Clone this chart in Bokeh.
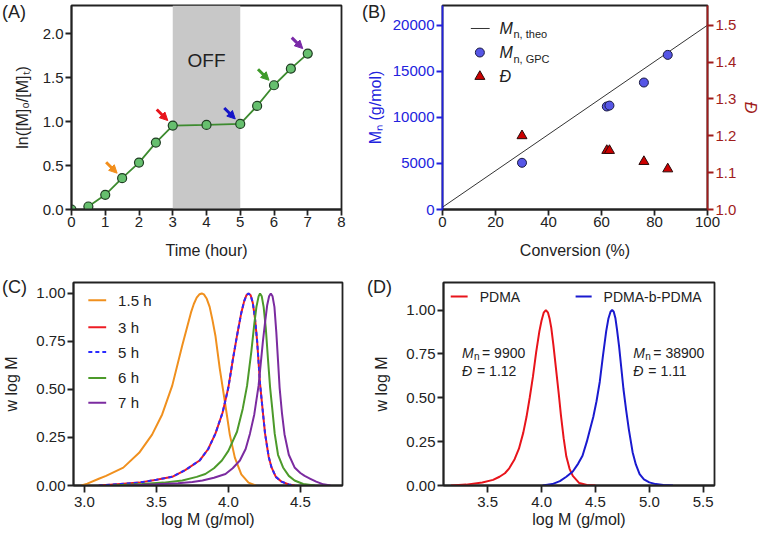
from bokeh.plotting import figure
from bokeh.models import (Range1d, LinearAxis, FixedTicker, NumeralTickFormatter,
                          BoxAnnotation, Label, Arrow, NormalHead, InlineStyleSheet)
from bokeh.layouts import row, column
from bokeh.embed import file_html
from bokeh.resources import INLINE

FONT = "Liberation Sans"
TXT = "#222222"

# ---------------- Panel A data ----------------
time_h = [0, 0.5, 1, 1.5, 2, 2.5, 3, 4, 5, 5.5, 6, 6.5, 7]
ln_ratio = [0.0, 0.034, 0.167, 0.356, 0.534, 0.761, 0.955, 0.962, 0.973, 1.178, 1.413, 1.602, 1.773]
off_period = [3, 5]
arrow_point_index = [3, 6, 8, 10, 12]
arrow_colors = ["#f28e1c", "#e8141c", "#1414c8", "#3e9a2a", "#7a2aa8"]
a_xticks = [0, 1, 2, 3, 4, 5, 6, 7, 8]
a_yticks = [0.0, 0.5, 1.0, 1.5, 2.0]

# ---------------- Panel B data ----------------
conversion = [30, 62, 63, 76, 85]
mn_gpc = [5070, 11180, 11280, 13780, 16780]
dispersity = [1.20, 1.16, 1.16, 1.13, 1.11]
theo_conv = [0, 100]
theo_mn = [250, 20000]
b_xticks = [0, 20, 40, 60, 80, 100]
b_yticks = [0, 5000, 10000, 15000, 20000]
b_rticks = [1.0, 1.1, 1.2, 1.3, 1.4, 1.5]

# ---------------- Panel C data ----------------
c_labels = ["1.5 h", "3 h", "5 h", "6 h", "7 h"]
c_colors = ["#f0901e", "#ee1c24", "#2a2aff", "#4c9a2a", "#7b2ba0"]
logm_15h = [2.98, 3.02, 3.10, 3.15, 3.27, 3.38, 3.47, 3.54, 3.61, 3.68, 3.74, 3.76, 3.78, 3.80,
            3.815, 3.83, 3.85, 3.87, 3.89, 3.91, 3.94, 3.975, 4.01, 4.045, 4.09, 4.14, 4.19]
w_15h = [0.0, 0.01, 0.035, 0.05, 0.093, 0.17, 0.265, 0.37, 0.52, 0.73, 0.90, 0.945, 0.978, 0.996,
         1.0, 0.995, 0.972, 0.93, 0.86, 0.78, 0.61, 0.44, 0.265, 0.145, 0.058, 0.015, 0.0]
logm_3h = [3.10, 3.25, 3.38, 3.50, 3.61, 3.70, 3.80, 3.86, 3.91, 3.96, 4.00, 4.03, 4.06, 4.09,
           4.11, 4.125, 4.14, 4.155, 4.17, 4.185, 4.20, 4.22, 4.24, 4.255, 4.28, 4.30, 4.33,
           4.37, 4.42, 4.46]
w_3h = [0.0, 0.008, 0.015, 0.03, 0.045, 0.08, 0.13, 0.19, 0.27, 0.38, 0.51, 0.65, 0.78, 0.90,
        0.96, 0.99, 1.0, 0.99, 0.95, 0.87, 0.75, 0.53, 0.38, 0.27, 0.15, 0.094, 0.045,
        0.02, 0.005, 0.0]
logm_5h = logm_3h
w_5h = w_3h
logm_6h = [3.20, 3.40, 3.55, 3.68, 3.78, 3.84, 3.90, 3.955, 4.00, 4.06, 4.10, 4.13, 4.16, 4.18,
           4.195, 4.21, 4.22, 4.232, 4.245, 4.26, 4.275, 4.29, 4.305, 4.322, 4.345, 4.38,
           4.42, 4.46, 4.52, 4.60]
w_6h = [0.0, 0.008, 0.015, 0.026, 0.045, 0.06, 0.09, 0.13, 0.18, 0.28, 0.40, 0.52, 0.70, 0.84,
        0.93, 0.985, 1.0, 0.985, 0.93, 0.82, 0.66, 0.51, 0.40, 0.27, 0.16, 0.094, 0.05,
        0.026, 0.008, 0.0]
logm_7h = [3.30, 3.50, 3.65, 3.75, 3.82, 3.90, 3.98, 4.03, 4.08, 4.12, 4.15, 4.18, 4.21, 4.24,
           4.255, 4.27, 4.283, 4.295, 4.307, 4.32, 4.333, 4.345, 4.356, 4.372, 4.39, 4.42,
           4.46, 4.50, 4.53, 4.57, 4.61, 4.66, 4.71]
w_7h = [0.0, 0.006, 0.012, 0.018, 0.026, 0.04, 0.06, 0.09, 0.13, 0.19, 0.27, 0.37, 0.52, 0.75,
        0.85, 0.94, 0.985, 1.0, 0.985, 0.93, 0.80, 0.65, 0.51, 0.38, 0.267, 0.16, 0.094,
        0.065, 0.05, 0.035, 0.02, 0.006, 0.0]
c_xticks = [3.0, 3.5, 4.0, 4.5]
w_yticks = [0.0, 0.25, 0.5, 0.75, 1.0]

# ---------------- Panel D data ----------------
logm_pdma = [3.16, 3.30, 3.45, 3.55, 3.61, 3.66, 3.70, 3.75, 3.79, 3.83, 3.86, 3.89, 3.92, 3.95,
             3.98, 4.00, 4.02, 4.04, 4.06, 4.075, 4.09, 4.11, 4.135, 4.16, 4.18, 4.205, 4.23,
             4.26, 4.29, 4.35, 4.42, 4.50]
w_pdma = [0.0, 0.005, 0.017, 0.032, 0.05, 0.07, 0.098, 0.15, 0.21, 0.30, 0.39, 0.50, 0.62, 0.76,
          0.88, 0.94, 0.985, 1.0, 0.985, 0.95, 0.90, 0.80, 0.66, 0.52, 0.40, 0.27, 0.165,
          0.095, 0.055, 0.014, 0.003, 0.0]
logm_block = [4.01, 4.10, 4.17, 4.23, 4.29, 4.34, 4.38, 4.42, 4.45, 4.48, 4.51, 4.54, 4.57, 4.60,
              4.62, 4.64, 4.655, 4.67, 4.685, 4.70, 4.72, 4.74, 4.76, 4.785, 4.81, 4.845,
              4.875, 4.91, 4.95, 5.00, 5.06, 5.13, 5.22]
w_block = [0.0, 0.008, 0.025, 0.05, 0.08, 0.125, 0.17, 0.25, 0.32, 0.39, 0.48, 0.59, 0.74, 0.88,
           0.95, 0.99, 1.0, 0.99, 0.955, 0.89, 0.79, 0.67, 0.55, 0.43, 0.32, 0.19, 0.12,
           0.065, 0.035, 0.018, 0.008, 0.003, 0.0]
d_xticks = [3.5, 4.0, 4.5, 5.0, 5.5]
d_labels = ["PDMA", "PDMA-b-PDMA"]
d_colors = ["#e8141b", "#1a1acf"]
panel_letters = ["(A)", "(B)", "(C)", "(D)"]


def panel_css(letter, left, top):
    return InlineStyleSheet(css=(
        ":host::after { content: '%s'; position: absolute; left: %dpx; top: %dpx; "
        "font-family: 'Liberation Sans', sans-serif; font-size: 18px; line-height: 1; "
        "color: #222222; pointer-events: none; z-index: 10; white-space: nowrap; }"
        % (letter, left, top)))


def new_fig(w, h, xr, yr, bl, br, bt, bb):
    p = figure(width=w, height=h, x_range=Range1d(*xr), y_range=Range1d(*yr),
               output_backend="svg", toolbar_location=None,
               min_border_left=bl, min_border_right=br, min_border_top=bt, min_border_bottom=bb)
    p.outline_line_color = TXT
    p.outline_line_width = 1.8
    p.outline_line_alpha = 1.0
    p.xgrid.visible = False
    p.ygrid.visible = False
    p.background_fill_color = "white"
    p.border_fill_color = "white"
    return p


def style_axis(ax, ticks, fmt, label, color=TXT, tick_out=6, lab_standoff=2, axlab_standoff=4):
    ax.ticker = FixedTicker(ticks=ticks)
    ax.formatter = NumeralTickFormatter(format=fmt)
    ax.axis_label = label
    ax.axis_line_color = color
    ax.axis_line_width = 1.8
    ax.major_tick_line_color = color
    ax.major_tick_line_width = 1.8
    ax.major_tick_in = 0
    ax.major_tick_out = tick_out
    ax.minor_tick_line_color = None
    ax.major_label_text_font = FONT
    ax.major_label_text_font_size = "15px"
    ax.major_label_text_color = color
    ax.major_label_standoff = lab_standoff
    ax.axis_label_text_font = FONT
    ax.axis_label_text_font_size = "16px"
    ax.axis_label_text_font_style = "normal"
    ax.axis_label_text_color = color
    ax.axis_label_standoff = axlab_standoff


def add_label(p, x, y, text, size, color=TXT, style="normal", xo=0, yo=0,
              align="left", baseline="middle"):
    p.add_layout(Label(x=x, y=y, text=text, x_offset=xo, y_offset=yo,
                       text_font=FONT, text_font_size=f"{size}px", text_color=color,
                       text_font_style=style, text_align=align, text_baseline=baseline))


# ================= Panel A =================
pa = new_fig(360, 268, (0, 8), (0, 2.32), 71, 19, 5, 59)
pa.stylesheets = [panel_css(panel_letters[0], 2, 3)]
style_axis(pa.xaxis[0], a_xticks, "0", "Time (hour)", lab_standoff=1, axlab_standoff=12)
style_axis(pa.yaxis[0], a_yticks, "0.0", "ln([M]\u2080/[M]\u209c)", lab_standoff=2, axlab_standoff=9)
pa.add_layout(BoxAnnotation(left=off_period[0], right=off_period[1], fill_color="#c8c8c8",
                            fill_alpha=1.0, line_color=None, level="underlay"))
add_label(pa, (off_period[0] + off_period[1]) / 2, 1.70, "OFF", 19, align="center")
pa.line(time_h[1:], ln_ratio[1:], line_color="#3d8b2f", line_width=1.8)
pa.scatter(time_h, ln_ratio, size=9, fill_color="#66bf6e", line_color="#1f3d22", line_width=1.2)
px_x = 8 / 270.0
px_y = 2.32 / 204.0
for idx, col in zip(arrow_point_index, arrow_colors):
    tx = time_h[idx] - 5 * px_x
    ty = ln_ratio[idx] + 5 * px_y
    pa.add_layout(Arrow(x_start=tx - 11 * px_x, y_start=ty + 11 * px_y, x_end=tx, y_end=ty,
                        line_color=col, line_width=3,
                        end=NormalHead(size=8, fill_color=col, line_color=col)))

# ================= Panel B =================
BLUE_AX = "#2222dd"
RED_AX = "#a01c1c"
pb = new_fig(402, 268, (0, 100), (0, 22140), 82, 50, 5, 59)
pb.stylesheets = [panel_css(panel_letters[1], 2, 3)]
pb.extra_y_ranges = {"disp": Range1d(1.0, 1.5535)}
style_axis(pb.xaxis[0], b_xticks, "0", "Conversion (%)", lab_standoff=1, axlab_standoff=12)
style_axis(pb.yaxis[0], b_yticks, "0", "M\u2099 (g/mol)", color=BLUE_AX, axlab_standoff=6)
rax = LinearAxis(y_range_name="disp")
style_axis(rax, b_rticks, "0.0", "\u0110", color=RED_AX, axlab_standoff=3)
rax.axis_label_text_font_style = "italic"
pb.add_layout(rax, "right")
pb.line(theo_conv, theo_mn, line_color="#333333", line_width=1.0)
pb.scatter(conversion, mn_gpc, size=9, marker="circle", fill_color="#5656e6",
           line_color="#1a1a40", line_width=1.0)
pb.scatter(conversion, dispersity, y_range_name="disp", size=10, marker="triangle",
           fill_color="#cc0000", line_color="#2a0a0a", line_width=1.0)
# legend (manual, for rich text)
pb.line([10.7, 17.8], [19644, 19644], line_color="#333333", line_width=1.0)
pb.scatter([14.1], [17039], size=9, marker="circle", fill_color="#5656e6",
           line_color="#1a1a40", line_width=1.0)
pb.scatter([14.1], [14434], size=10, marker="triangle", fill_color="#cc0000",
           line_color="#2a0a0a", line_width=1.0)
add_label(pb, 21.5, 19644, "M", 16, style="italic")
add_label(pb, 21.5, 19644, "n, theo", 11, xo=14, yo=-6)
add_label(pb, 21.5, 17039, "M", 16, style="italic")
add_label(pb, 21.5, 17039, "n, GPC", 11, xo=14, yo=-6)
add_label(pb, 21.5, 14434, "\u0110", 16, style="italic")

# ================= Panel C =================
pc = new_fig(365, 268, (2.924, 4.793), (0, 1.057), 70, 23, 14, 50)
pc.stylesheets = [panel_css(panel_letters[2], 2, 10)]
style_axis(pc.xaxis[0], c_xticks, "0.0", "log M (g/mol)", tick_out=7, lab_standoff=4, axlab_standoff=1)
style_axis(pc.yaxis[0], w_yticks, "0.00", "w log M", lab_standoff=2, axlab_standoff=13)
c_x = [logm_15h, logm_3h, logm_5h, logm_6h, logm_7h]
c_y = [w_15h, w_3h, w_5h, w_6h, w_7h]
c_dash = ["solid", "solid", "4 3", "solid", "solid"]
for xs, ys, col, dash in zip(c_x, c_y, c_colors, c_dash):
    pc.line(xs, ys, line_color=col, line_width=2, line_dash=dash)
c_leg_y = [0.964, 0.824, 0.695, 0.560, 0.431]
for lbl, col, dash, ly in zip(c_labels, c_colors, c_dash, c_leg_y):
    pc.line([3.027, 3.151], [ly, ly], line_color=col, line_width=2, line_dash=dash)
    add_label(pc, 3.234, ly, lbl, 15)

# ================= Panel D =================
pd_ = new_fig(397, 268, (3.09, 5.605), (0, 1.157), 78, 48, 14, 51)
pd_.stylesheets = [panel_css(panel_letters[3], 2, 10)]
style_axis(pd_.xaxis[0], d_xticks, "0.0", "log M (g/mol)", tick_out=7, lab_standoff=4, axlab_standoff=1)
style_axis(pd_.yaxis[0], w_yticks, "0.00", "w log M", lab_standoff=2, axlab_standoff=13)
pd_.line(logm_pdma, w_pdma, line_color=d_colors[0], line_width=2)
pd_.line(logm_block, w_block, line_color=d_colors[1], line_width=2)
# legend
pd_.line([3.157, 3.314], [1.077, 1.077], line_color=d_colors[0], line_width=2)
add_label(pd_, 3.426, 1.077, d_labels[0], 14)
pd_.line([4.316, 4.465], [1.077, 1.077], line_color=d_colors[1], line_width=2)
add_label(pd_, 4.576, 1.077, d_labels[1], 14)
# annotations
for xa, mn_txt, d_txt in [(3.262, "= 9900", "= 1.12"), (4.852, "= 38900", "= 1.11")]:
    add_label(pd_, xa, 0.756, "M", 14, style="italic")
    add_label(pd_, xa, 0.756, "n", 10, xo=12, yo=-4)
    add_label(pd_, xa, 0.756, mn_txt, 14, xo=20)
    add_label(pd_, xa, 0.650, "\u0110", 14, style="italic")
    add_label(pd_, xa, 0.650, d_txt, 14, xo=15)

layout = column(row(pa, pb), row(pc, pd_))
open("out.html", "w").write(file_html(layout, INLINE))
